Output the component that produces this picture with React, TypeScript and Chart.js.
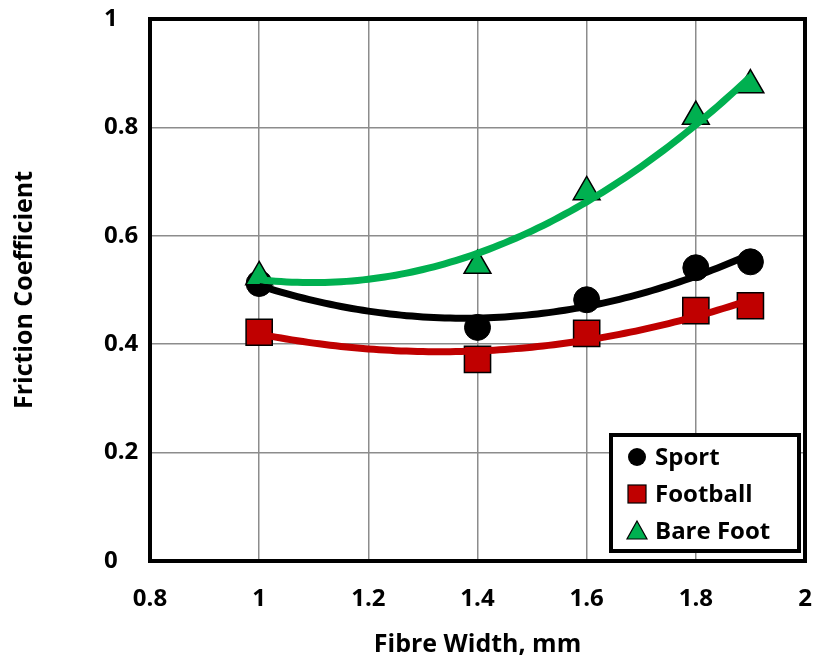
import React, { useEffect, useRef } from 'react';
import { Chart, registerables } from 'chart.js';

Chart.register(...registerables);

// ---- data ----
const fibreWidth = [1.0, 1.4, 1.6, 1.8, 1.9];
const sportValues = [0.512, 0.431, 0.482, 0.541, 0.552];
const footballValues = [0.422, 0.372, 0.42, 0.462, 0.471];
const bareFootValues = [0.524, 0.545, 0.681, 0.82, 0.878];
const seriesNames = ['Sport', 'Football', 'Bare Foot'];
const xTicks = [0.8, 1, 1.2, 1.4, 1.6, 1.8, 2];
const yTicks = [0, 0.2, 0.4, 0.6, 0.8, 1];
const xTitle = 'Fibre Width, mm';
const yTitle = 'Friction Coefficient';

const FONT = '"Open Sans", "DejaVu Sans", sans-serif';
const GREEN = '#00B050';
const RED = '#C00000';

// Excel-style 2nd order polynomial trendline (least squares)
function polyFit2(xs: number[], ys: number[]) {
  let s0 = 0, s1 = 0, s2 = 0, s3 = 0, s4 = 0, t0 = 0, t1 = 0, t2 = 0;
  for (let i = 0; i < xs.length; i++) {
    const x = xs[i], y = ys[i];
    s0 += 1; s1 += x; s2 += x * x; s3 += x * x * x; s4 += x * x * x * x;
    t0 += y; t1 += x * y; t2 += x * x * y;
  }
  const M = [
    [s0, s1, s2, t0],
    [s1, s2, s3, t1],
    [s2, s3, s4, t2],
  ];
  for (let c = 0; c < 3; c++) {
    let p = c;
    for (let r = c + 1; r < 3; r++) if (Math.abs(M[r][c]) > Math.abs(M[p][c])) p = r;
    [M[c], M[p]] = [M[p], M[c]];
    for (let r = 0; r < 3; r++) {
      if (r === c) continue;
      const f = M[r][c] / M[c][c];
      for (let k = c; k < 4; k++) M[r][k] -= f * M[c][k];
    }
  }
  const a = M[0][3] / M[0][0], b = M[1][3] / M[1][1], cc = M[2][3] / M[2][2];
  return (x: number) => a + b * x + cc * x * x;
}

function trendPoints(xs: number[], ys: number[]) {
  const f = polyFit2(xs, ys);
  const x0 = xs[0], x1 = xs[xs.length - 1];
  const n = 90;
  const pts: { x: number; y: number }[] = [];
  for (let i = 0; i <= n; i++) {
    const x = x0 + ((x1 - x0) * i) / n;
    pts.push({ x, y: f(x) });
  }
  return pts;
}

const toPts = (ys: number[]) => fibreWidth.map((x, i) => ({ x, y: ys[i] }));

const frameAndLegend = {
  id: 'frameAndLegend',
  afterDraw(chart: any) {
    const { ctx, chartArea } = chart;
    const { left, top, right, bottom } = chartArea;
    ctx.save();
    ctx.strokeStyle = '#000';
    ctx.lineWidth = 4;
    ctx.strokeRect(left, top, right - left, bottom - top);

    // legend box
    const bx = 611, by = 435, bw = 188, bh = 116;
    ctx.fillStyle = '#fff';
    ctx.fillRect(bx, by, bw, bh);
    ctx.lineWidth = 4;
    ctx.strokeStyle = '#000';
    ctx.strokeRect(bx, by, bw, bh);

    const rows = [457, 494, 531];
    const mx = 637;
    ctx.font = `bold 24px ${FONT}`;
    ctx.textBaseline = 'middle';
    ctx.textAlign = 'left';
    seriesNames.forEach((name, i) => {
      const y = rows[i];
      ctx.lineWidth = 1.2;
      ctx.strokeStyle = '#000';
      if (i === 0) {
        ctx.beginPath();
        ctx.arc(mx, y, 9, 0, Math.PI * 2);
        ctx.fillStyle = '#000';
        ctx.fill();
      } else if (i === 1) {
        ctx.fillStyle = RED;
        ctx.fillRect(mx - 9, y - 9, 18, 18);
        ctx.strokeRect(mx - 9, y - 9, 18, 18);
      } else {
        ctx.beginPath();
        ctx.moveTo(mx, y - 10);
        ctx.lineTo(mx + 10, y + 8);
        ctx.lineTo(mx - 10, y + 8);
        ctx.closePath();
        ctx.fillStyle = GREEN;
        ctx.fill();
        ctx.stroke();
      }
      ctx.fillStyle = '#000';
      ctx.fillText(name, 655, y + 1);
    });
    ctx.restore();
  },
};

export default function App() {
  const ref = useRef<HTMLCanvasElement>(null);

  useEffect(() => {
    let chart: Chart | null = null;
    let cancelled = false;
    const make = () => {
      if (cancelled || !ref.current) return;
      const tickFont = { family: FONT, size: 24, weight: 'bold' as const };
      const titleFont = { family: FONT, size: 25, weight: 'bold' as const };
      chart = new Chart(ref.current, {
        type: 'scatter',
        data: {
          datasets: [
            {
              label: seriesNames[2] + ' trend',
              data: trendPoints(fibreWidth, bareFootValues),
              showLine: true, borderColor: GREEN, borderWidth: 7, pointRadius: 0,
              order: 0,
            },
            {
              label: seriesNames[1] + ' trend',
              data: trendPoints(fibreWidth, footballValues),
              showLine: true, borderColor: RED, borderWidth: 7, pointRadius: 0,
              order: 1,
            },
            {
              label: seriesNames[0] + ' trend',
              data: trendPoints(fibreWidth, sportValues),
              showLine: true, borderColor: '#000', borderWidth: 7, pointRadius: 0,
              order: 2,
            },
            {
              label: seriesNames[2],
              data: toPts(bareFootValues),
              pointStyle: 'triangle', pointRadius: 15.5,
              backgroundColor: GREEN, borderColor: '#000', borderWidth: 1.5,
              order: 3,
            },
            {
              label: seriesNames[1],
              data: toPts(footballValues),
              pointStyle: 'rect', pointRadius: 18.5,
              backgroundColor: RED, borderColor: '#000', borderWidth: 1.5,
              order: 4,
            },
            {
              label: seriesNames[0],
              data: toPts(sportValues),
              pointStyle: 'circle', pointRadius: 13,
              backgroundColor: '#000', borderColor: '#000', borderWidth: 1,
              order: 5,
            },
          ],
        } as any,
        options: {
          animation: false,
          responsive: false,
          events: [],
          layout: { autoPadding: false, padding: { left: 104, top: 19, right: 14, bottom: 0 } },
          plugins: { legend: { display: false }, tooltip: { enabled: false } },
          scales: {
            x: {
              type: 'linear',
              min: xTicks[0],
              max: xTicks[xTicks.length - 1],
              afterBuildTicks: (s: any) => { s.ticks = xTicks.map((v) => ({ value: v })); },
              afterFit: (s: any) => { s.height = 108; s.paddingLeft = 0; s.paddingRight = 0; },
              grid: { color: '#8c8c8c', lineWidth: 1.5, drawTicks: false },
              border: { display: false },
              ticks: { font: tickFont, color: '#000', padding: 24, maxRotation: 0, callback: (v: any) => String(v) },
              title: { display: true, text: xTitle, font: titleFont, color: '#000', padding: { top: 0, bottom: 9 } },
            },
            y: {
              type: 'linear',
              min: yTicks[0],
              max: yTicks[yTicks.length - 1],
              afterBuildTicks: (s: any) => { s.ticks = yTicks.map((v) => ({ value: v })); },
              afterFit: (s: any) => { s.width = 46; s.paddingTop = 0; s.paddingBottom = 0; },
              grid: { color: '#8c8c8c', lineWidth: 1.5, drawTicks: false },
              border: { display: false },
              ticks: { font: tickFont, color: '#000', crossAlign: 'far', padding: 12, callback: (v: any) => String(v) },
              title: { display: true, text: yTitle, font: titleFont, color: '#000', padding: { top: -94, bottom: 0 } },
            },
          },
        } as any,
        plugins: [frameAndLegend],
      });
    };
    const fonts: any = (document as any).fonts;
    if (fonts && fonts.load) {
      Promise.all([fonts.load(`bold 24px "Open Sans"`), fonts.load(`bold 25px "Open Sans"`)])
        .catch(() => null)
        .then(make);
    } else make();
    return () => {
      cancelled = true;
      if (chart) chart.destroy();
    };
  }, []);

  return (
    <div style={{ position: 'fixed', left: 0, top: 0, width: 819, height: 669, background: '#fff' }}>
      <canvas ref={ref} width={819} height={669} style={{ display: 'block', width: 819, height: 669 }} />
    </div>
  );
}
